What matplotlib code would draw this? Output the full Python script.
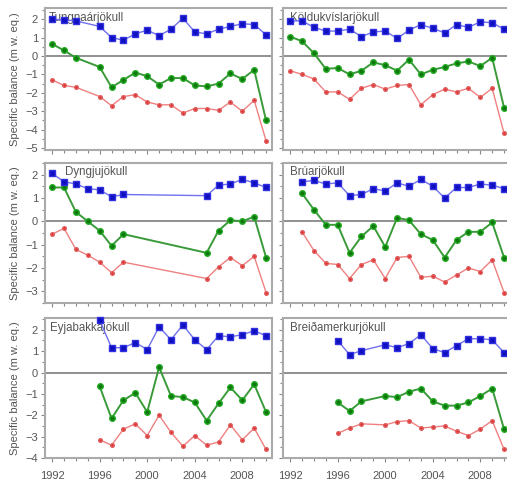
import numpy as np
import matplotlib
matplotlib.use("Agg")
from matplotlib import pyplot as plt
from matplotlib.ticker import MultipleLocator

plt.rcParams['font.family'] = ['Liberation Sans', 'DejaVu Sans']

nan = np.nan
years = np.arange(1992, 2011)

names = ["Tungnaárjökull", "Köldukvíslarjökull", "Dyngjujökull",
         "Brúarjökull", "Eyjabakkajökull", "Breiðamerkurjökull"]

# winter balance (blue)
winter_tu = [2.0, 1.95, 1.9, nan, 1.6, 1.0, 0.85, 1.2, 1.4, 1.1, 1.45, 2.05, 1.3, 1.2, 1.45, 1.6, 1.75, 1.7, 1.15]
winter_ko = [1.9, 1.9, 1.55, 1.35, 1.35, 1.45, 1.05, 1.3, 1.35, 0.95, 1.4, 1.7, 1.5, 1.25, 1.7, 1.55, 1.85, 1.8, 1.45]
winter_dy = [2.05, 1.7, 1.6, 1.4, 1.35, 1.05, 1.15, nan, nan, nan, nan, nan, nan, 1.1, 1.55, 1.6, 1.8, 1.65, 1.45]
winter_br = [nan, 1.7, 1.75, 1.6, 1.65, 1.1, 1.15, 1.4, 1.3, 1.65, 1.5, 1.8, 1.5, 1.0, 1.45, 1.45, 1.6, 1.55, 1.4]
winter_ey = [nan, nan, nan, nan, 2.45, 1.16, 1.16, 1.4, 1.07, 2.14, 1.53, 2.23, 1.53, 1.07, 1.72, 1.67, 1.77, 1.95, 1.72]
winter_bm = [nan, nan, nan, nan, 1.49, 0.84, 1.02, nan, 1.3, 1.16, 1.35, 1.77, 1.12, 0.93, 1.26, 1.58, 1.58, 1.53, 0.93]

# net balance (green)
net_tu = [0.65, 0.3, -0.1, nan, -0.6, -1.7, -1.3, -0.9, -1.1, -1.55, -1.2, -1.2, -1.6, -1.65, -1.5, -0.95, -1.25, -0.75, -3.5]
net_ko = [1.05, 0.8, 0.15, -0.7, -0.65, -1.0, -0.8, -0.35, -0.5, -0.8, -0.2, -1.0, -0.75, -0.6, -0.4, -0.3, -0.55, -0.1, -2.8]
net_dy = [1.45, 1.45, 0.4, 0.0, -0.4, -1.05, -0.55, nan, nan, nan, nan, nan, nan, -1.35, -0.4, 0.05, 0.0, 0.2, -1.55]
net_br = [nan, 1.2, 0.5, -0.15, -0.15, -1.35, -0.65, -0.2, -1.1, 0.15, 0.05, -0.55, -0.8, -1.55, -0.8, -0.45, -0.45, -0.05, -1.55]
net_ey = [nan, nan, nan, nan, -0.65, -2.15, -1.3, -0.95, -1.85, 0.25, -1.1, -1.15, -1.4, -2.25, -1.45, -0.7, -1.3, -0.55, -1.85]
net_bm = [nan, nan, nan, nan, -1.4, -1.8, -1.35, nan, -1.1, -1.15, -0.9, -0.75, -1.35, -1.55, -1.55, -1.4, -1.1, -0.75, -2.65]

# summer balance (red)
summer_tu = [-1.3, -1.6, -1.7, nan, -2.2, -2.7, -2.2, -2.1, -2.5, -2.65, -2.65, -3.1, -2.85, -2.85, -2.95, -2.5, -3.0, -2.4, -4.6]
summer_ko = [-0.8, -1.0, -1.25, -1.95, -1.95, -2.35, -1.75, -1.55, -1.8, -1.6, -1.55, -2.65, -2.1, -1.8, -1.95, -1.75, -2.25, -1.75, -4.2]
summer_dy = [-0.55, -0.3, -1.2, -1.45, -1.75, -2.2, -1.75, nan, nan, nan, nan, nan, nan, -2.45, -1.95, -1.55, -1.9, -1.5, -3.05]
summer_br = [nan, -0.45, -1.25, -1.8, -1.85, -2.45, -1.85, -1.65, -2.45, -1.55, -1.5, -2.4, -2.35, -2.6, -2.3, -2.0, -2.15, -1.65, -3.05]
summer_ey = [nan, nan, nan, nan, -3.15, -3.4, -2.65, -2.4, -2.95, -2.0, -2.8, -3.45, -2.95, -3.4, -3.25, -2.45, -3.15, -2.6, -3.6]
summer_bm = [nan, nan, nan, nan, -2.85, -2.6, -2.4, nan, -2.45, -2.3, -2.25, -2.6, -2.55, -2.5, -2.75, -2.95, -2.65, -2.25, -3.6]

winter = [winter_tu, winter_ko, winter_dy, winter_br, winter_ey, winter_bm]
net = [net_tu, net_ko, net_dy, net_br, net_ey, net_bm]
summer = [summer_tu, summer_ko, summer_dy, summer_br, summer_ey, summer_bm]

row_ylims = [(-5.1, 2.6), (-3.5, 2.5), (-4.0, 2.55)]
row_px = [(8, 150), (163, 303), (318, 458)]
col_px = [(45, 272), (283, 510)]
name_x = [0.015, 0.03, 0.09, 0.03, 0.02, 0.03]

W, H = 507, 486
fig = plt.figure(figsize=(W / 100, H / 100), dpi=100)
fig.patch.set_facecolor('white')

txt = '#555555'


def draw(ax, y, **kw):
    y = np.array(y, dtype=float)
    m = ~np.isnan(y)
    ax.plot(years[m], y[m], clip_on=False, **kw)


for i in range(6):
    r, c = i // 2, i % 2
    x0, x1 = col_px[c]
    y0, y1 = row_px[r]
    ax = fig.add_axes([x0 / W, 1 - y1 / H, (x1 - x0) / W, (y1 - y0) / H])
    ax.set_xlim(1991.4, 2010.5)
    ax.set_ylim(*row_ylims[r])
    ax.axhline(0, color='#888888', lw=1.3, zorder=1)

    draw(ax, summer[i], color='#f08080', lw=1.0, marker='o', ms=2.6,
         mfc='#e03030', mec='#e06060', zorder=3)
    draw(ax, net[i], color='#3a9a3a', lw=1.4, marker='o', ms=4.0,
         mfc='#117711', mec='#22aa22', zorder=4)
    draw(ax, winter[i], color='#7070ee', lw=1.0, marker='s', ms=4.4,
         mfc='#1010c0', mec='#3030e0', zorder=5)

    ax.text(name_x[i], 0.975, names[i], transform=ax.transAxes, ha='left', va='top',
            fontsize=8.3, color='#555555', zorder=2)

    for s in ax.spines.values():
        s.set_color('#aaaaaa')
        s.set_linewidth(1.5)

    ax.xaxis.set_major_locator(MultipleLocator(4))
    ax.xaxis.set_minor_locator(MultipleLocator(1))
    ax.yaxis.set_major_locator(MultipleLocator(1))
    ax.yaxis.set_minor_locator(MultipleLocator(0.5))
    ax.tick_params(which='both', direction='out', length=3, width=0.8,
                   color='#888888', labelsize=8, labelcolor=txt, pad=2)
    ax.tick_params(which='minor', length=2)

    if c == 0:
        ax.set_ylabel('Specific balance (m w. eq.)', fontsize=8, color=txt, labelpad=4)
    else:
        ax.set_yticklabels([])
    if r < 2:
        ax.set_xticklabels([])
    else:
        ax.tick_params(axis='x', pad=6)

fig.savefig('out.png', dpi=100, facecolor='white')
